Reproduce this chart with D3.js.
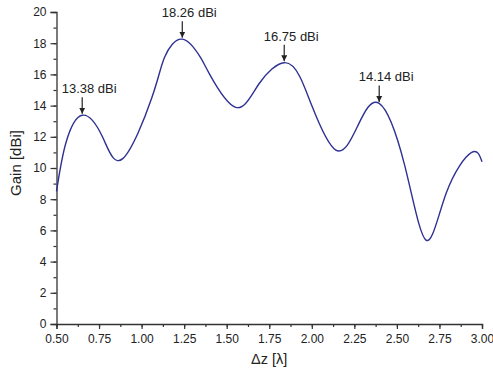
<!DOCTYPE html>
<html>
<head>
<meta charset="utf-8">
<script src="https://cdn.jsdelivr.net/npm/d3@7/dist/d3.min.js"></script>
<style>
  html, body { margin: 0; padding: 0; background: #fff; }
  svg { display: block; }
  text { font-family: "Liberation Sans", Arial, Helvetica, sans-serif; fill: #222; }
</style>
</head>
<body>
<script>
// ---- data ----
const dz = [0.50, 0.555, 0.651, 0.77, 0.889, 1.06, 1.135, 1.239, 1.345, 1.40, 1.553, 1.69, 1.838,
            1.93, 2.00, 2.141, 2.27, 2.396, 2.545, 2.671, 2.79, 2.937, 3.00];
const gain = [8.5, 11.6, 13.38, 12.0, 10.6, 14.5, 17.1, 18.26, 17.1, 16.0, 13.89, 15.4, 16.75,
              15.85, 14.0, 11.15, 12.7, 14.14, 10.2, 5.38, 8.4, 10.98, 10.4];
const peakX = [0.651, 1.239, 1.838, 2.396];
const peakLabels = ["13.38 dBi", "18.26 dBi", "16.75 dBi", "14.14 dBi"];
const peakVals = [13.38, 18.26, 16.75, 14.14];
const xTicks = [0.50, 0.75, 1.00, 1.25, 1.50, 1.75, 2.00, 2.25, 2.50, 2.75, 3.00];
const yTicks = [0, 2, 4, 6, 8, 10, 12, 14, 16, 18, 20];
const xTitle = "\u0394z [\u03bb]";
const yTitle = "Gain [dBi]";

// ---- layout ----
const W = 493, H = 374;
const x0 = 56.5, x1 = 482, yTop = 12, yBot = 324;
const axisColor = "#333";
const lineColor = "#2e3192";

const svg = d3.select("body").append("svg").attr("width", W).attr("height", H);

const x = d3.scaleLinear().domain([0.5, 3.0]).range([x0, x1]);
const y = d3.scaleLinear().domain([0, 20]).range([yBot, yTop]);

const xMinor = d3.range(0.5, 3.0001, 0.125);
const yMinor = d3.range(0, 20.001, 1);

const gx = svg.append("g").attr("transform", `translate(0,${yBot})`);
gx.call(d3.axisBottom(x).tickValues(xMinor).tickSize(3).tickFormat(""));
gx.selectAll(".tick line").attr("stroke", axisColor).attr("stroke-width", 1.2);
gx.select(".domain").remove();
const gx2 = svg.append("g").attr("transform", `translate(0,${yBot})`);
gx2.call(d3.axisBottom(x).tickValues(xTicks).tickSize(5).tickPadding(5).tickFormat(d3.format(".2f")));
gx2.selectAll(".domain").attr("stroke", axisColor).attr("stroke-width", 1.3);
gx2.selectAll(".tick line").attr("stroke", axisColor).attr("stroke-width", 1.2);
gx2.selectAll(".tick text").attr("font-size", 12).attr("fill", "#222")
   .attr("font-family", "Liberation Sans, Arial, sans-serif");

const gy = svg.append("g").attr("transform", `translate(${x0},0)`);
gy.call(d3.axisLeft(y).tickValues(yMinor).tickSize(3).tickFormat(""));
gy.selectAll(".tick line").attr("stroke", axisColor).attr("stroke-width", 1.2);
gy.select(".domain").remove();
const gy2 = svg.append("g").attr("transform", `translate(${x0},0)`);
gy2.call(d3.axisLeft(y).tickValues(yTicks).tickSize(6).tickPadding(4));
gy2.selectAll(".domain").attr("stroke", axisColor).attr("stroke-width", 1.3);
gy2.selectAll(".tick line").attr("stroke", axisColor).attr("stroke-width", 1.2);
gy2.selectAll(".tick text").attr("font-size", 12).attr("fill", "#222")
   .attr("font-family", "Liberation Sans, Arial, sans-serif");

// curve
const pts = dz.map((d, i) => [d, gain[i]]);
const line = d3.line().x(d => x(d[0])).y(d => y(d[1])).curve(d3.curveNatural);
svg.append("path").datum(pts).attr("d", line)
  .attr("fill", "none").attr("stroke", lineColor).attr("stroke-width", 1.4);

// annotations
const defs = svg.append("defs");
defs.append("marker").attr("id", "ah").attr("viewBox", "0 0 10 10")
  .attr("refX", 10).attr("refY", 5).attr("markerWidth", 6).attr("markerHeight", 8)
  .attr("markerUnits", "userSpaceOnUse").attr("orient", "auto")
  .append("path").attr("d", "M0,0 L10,5 L0,10 Z").attr("fill", "#222");

const gap = 22;
peakX.forEach((px, i) => {
  const cx = x(px), cy = y(peakVals[i]);
  svg.append("line").attr("x1", cx).attr("x2", cx)
    .attr("y1", cy - gap + 4).attr("y2", cy - 1.5)
    .attr("stroke", "#222").attr("stroke-width", 1.2).attr("marker-end", "url(#ah)");
  svg.append("text").attr("x", cx + 7).attr("y", cy - gap)
    .attr("text-anchor", "middle").attr("font-size", 13).text(peakLabels[i]);
});

// titles
svg.append("text").attr("x", (x0 + x1) / 2).attr("y", 364).attr("text-anchor", "middle")
  .attr("font-size", 14.5).text(xTitle);
svg.append("text").attr("transform", `translate(21,${(yTop + yBot) / 2 - 5}) rotate(-90)`)
  .attr("text-anchor", "middle").attr("font-size", 15).text(yTitle);
</script>
</body>
</html>
